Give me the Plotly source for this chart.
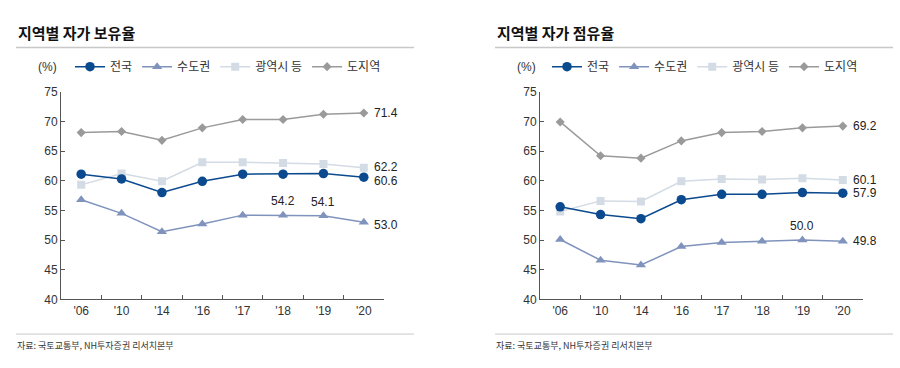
import plotly.graph_objects as go

years = ["'06", "'10", "'14", "'16", "'17", "'18", "'19", "'20"]
series_names = ["전국", "수도권", "광역시 등", "도지역"]

# 자가 보유율
own_nation = [61.1, 60.3, 58.0, 59.9, 61.1, 61.1, 61.2, 60.6]
own_capital = [56.8, 54.5, 51.4, 52.7, 54.2, 54.2, 54.1, 53.0]
own_metro = [59.3, 61.2, 59.9, 63.1, 63.1, 63.0, 62.8, 62.2]
own_province = [68.1, 68.3, 66.8, 68.9, 70.3, 70.3, 71.2, 71.4]

# 자가 점유율
occ_nation = [55.6, 54.3, 53.6, 56.8, 57.7, 57.7, 58.0, 57.9]
occ_capital = [50.1, 46.6, 45.8, 48.9, 49.6, 49.8, 50.0, 49.8]
occ_metro = [54.8, 56.6, 56.5, 59.9, 60.3, 60.2, 60.4, 60.1]
occ_province = [69.9, 64.2, 63.8, 66.7, 68.1, 68.3, 68.9, 69.2]

titles = ["지역별 자가 보유율", "지역별 자가 점유율"]
source = "자료: 국토교통부, NH투자증권 리서치본부"

colors = ["#0b4a8e", "#8093bd", "#d3dbe5", "#9a9a9a"]
symbols = ["circle", "triangle-up", "square", "diamond"]
msizes = [9.5, 9, 8, 7]

KR = "Noto Sans CJK KR"
NUM = "Liberation Sans, Noto Sans CJK KR"

fig = go.Figure()

datasets = [
    [own_nation, own_capital, own_metro, own_province],
    [occ_nation, occ_capital, occ_metro, occ_province],
]

W, H = 900, 368
for p, data in enumerate(datasets):
    xa = "x" if p == 0 else "x2"
    ya = "y" if p == 0 else "y2"
    lg = "legend" if p == 0 else "legend2"
    order = [3, 2, 1, 0]
    for i in order:
        fig.add_trace(go.Scatter(
            x=years, y=data[i], name=series_names[i], mode="lines+markers",
            line=dict(color=colors[i], width=1.5),
            marker=dict(symbol=symbols[i], size=msizes[i], color=colors[i]),
            xaxis=xa, yaxis=ya, legend=lg, legendrank=i,
            showlegend=True,
        ))

def px_x(v):
    return v / W

def px_y(v):
    return 1 - v / H

ydom = [px_y(304), px_y(88)]
axis_common = dict(showline=True, linecolor="#555555", linewidth=1,
                   ticks="inside", ticklen=4, tickcolor="#555555",
                   showgrid=False, zeroline=False,
                   tickfont=dict(family=NUM, size=12, color="#333333"))

fig.update_layout(
    width=W, height=H, autosize=False, margin=dict(l=0, r=0, t=0, b=0),
    paper_bgcolor="white", plot_bgcolor="white",
    xaxis=dict(domain=[px_x(61), px_x(384)], type="category", range=[-0.5, 7.5],
               tickson="boundaries", anchor="y", **axis_common),
    yaxis=dict(domain=ydom, range=[40, 75], dtick=5, anchor="x", **axis_common),
    xaxis2=dict(domain=[px_x(540), px_x(863)], type="category", range=[-0.5, 7.5],
                tickson="boundaries", anchor="y2", **axis_common),
    yaxis2=dict(domain=ydom, range=[40, 75], dtick=5, anchor="x2", **axis_common),
    legend=dict(orientation="h", x=px_x(70), y=px_y(62), xanchor="left", yanchor="middle",
                font=dict(family=KR, size=12, color="#333333"), itemwidth=30,
                bgcolor="rgba(0,0,0,0)", traceorder="normal"),
    legend2=dict(orientation="h", x=px_x(547), y=px_y(62), xanchor="left", yanchor="middle",
                 font=dict(family=KR, size=12, color="#333333"), itemwidth=30,
                 bgcolor="rgba(0,0,0,0)", traceorder="normal"),
    showlegend=True,
)

annotations = []
shapes = []
offsets = [0, 479]
for p in range(2):
    ox = offsets[p]
    annotations.append(dict(text="<b>" + titles[p] + "</b>", x=px_x(16 + ox), y=px_y(27),
                            xref="paper", yref="paper", xanchor="left", yanchor="middle",
                            showarrow=False, font=dict(family=KR, size=15, color="#111111")))
    annotations.append(dict(text="(%)", x=px_x(36 + ox), y=px_y(62),
                            xref="paper", yref="paper", xanchor="left", yanchor="middle",
                            showarrow=False, font=dict(family=NUM, size=12, color="#333333")))
    annotations.append(dict(text=source, x=px_x(15 + ox), y=px_y(352),
                            xref="paper", yref="paper", xanchor="left", yanchor="middle",
                            showarrow=False, font=dict(family=KR, size=9, color="#333333")))
    shapes.append(dict(type="line", xref="paper", yref="paper",
                       x0=px_x(16 + ox), x1=px_x(414 + ox), y0=px_y(42), y1=px_y(42),
                       line=dict(color="#c8c8c8", width=1.5)))
    shapes.append(dict(type="line", xref="paper", yref="paper",
                       x0=px_x(16 + ox), x1=px_x(414 + ox), y0=px_y(340), y1=px_y(340),
                       line=dict(color="#c8c8c8", width=1)))

# end-of-line value labels (small vertical nudges where labels would collide)
end_shift = [[-4, -3, 1, 0], [0, 0, 0, 0]]
for p, data in enumerate(datasets):
    xa = "x" if p == 0 else "x2"
    ya = "y" if p == 0 else "y2"
    for i in [3, 2, 0, 1]:
        annotations.append(dict(text=f"{data[i][-1]:.1f}", x=years[-1], y=data[i][-1],
                                xref=xa, yref=ya, xanchor="left", yanchor="middle",
                                xshift=8, yshift=end_shift[p][i], showarrow=False,
                                font=dict(family=NUM, size=12, color="#222222")))

above = [[5, 6], [6]]
for p, idxs in enumerate(above):
    xa = "x" if p == 0 else "x2"
    ya = "y" if p == 0 else "y2"
    cap = datasets[p][1]
    for j in idxs:
        annotations.append(dict(text=f"{cap[j]:.1f}", x=years[j], y=cap[j],
                                xref=xa, yref=ya, xanchor="center", yanchor="middle",
                                yshift=14, showarrow=False,
                                font=dict(family=NUM, size=12, color="#222222")))

fig.update_layout(annotations=annotations, shapes=shapes)
fig.write_html("out.html", config={"displayModeBar": False},
               post_script="document.body.style.margin='0';document.body.style.padding='0';")
